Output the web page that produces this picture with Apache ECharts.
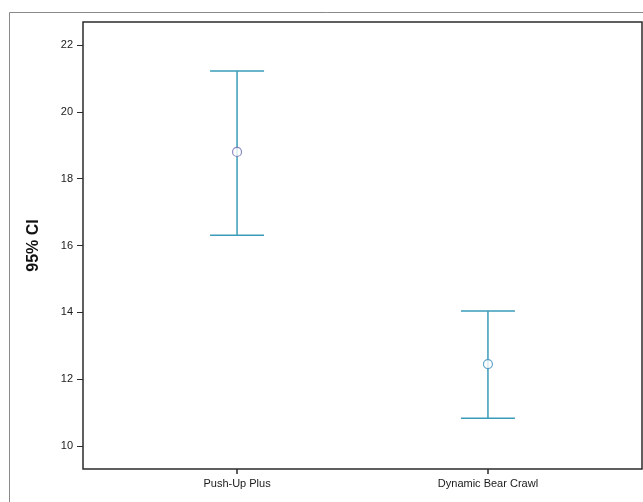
<!DOCTYPE html>
<html>
<head>
<meta charset="utf-8">
<script src="https://cdn.jsdelivr.net/npm/echarts@6/dist/echarts.min.js"></script>
<style>
  html, body { margin: 0; padding: 0; background: #fff; }
  #main { width: 643px; height: 502px; }
</style>
</head>
<body>
<div id="main"></div>
<script>
var categories = ['Push-Up Plus', 'Dynamic Bear Crawl'];
var lower = [16.31, 10.83];
var mean = [18.80, 12.45];
var upper = [21.22, 14.04];
var yTicks = [10, 12, 14, 16, 18, 20, 22];
var meanColors = ['#6d6db3', '#3b8fbf'];

var chartDom = document.getElementById('main');
var myChart = echarts.init(chartDom);

var ciData = categories.map(function (c, i) {
  return [i + 1, lower[i], upper[i]];
});
var meanData = categories.map(function (c, i) {
  return {
    value: [i + 1, mean[i]],
    itemStyle: { borderColor: meanColors[i] }
  };
});

var option = {
  animation: false,
  backgroundColor: '#fff',
  graphic: [
    {
      type: 'rect',
      shape: { x: 9.5, y: 12.5, width: 700, height: 600 },
      style: { fill: null, stroke: '#8a8a8a', lineWidth: 1 },
      z: -1
    }
  ],
  grid: {
    left: 83,
    top: 22,
    right: 1,
    bottom: 33,
    show: true,
    borderColor: '#2b2b2b',
    borderWidth: 1.5
  },
  xAxis: {
    type: 'value',
    min: 0.386,
    max: 2.614,
    splitLine: { show: false },
    axisLine: { show: false },
    axisTick: {
      show: true,
      length: 5,
      customValues: [1, 2],
      lineStyle: { color: '#2b2b2b', width: 1.5 }
    },
    axisLabel: {
      customValues: [1, 2],
      margin: 9,
      color: '#1a1a1a',
      fontFamily: 'Liberation Sans',
      fontSize: 11
      ,
      formatter: function (v) {
        return categories[Math.round(v) - 1] || '';
      }
    }
  },
  yAxis: {
    type: 'value',
    min: 9.31,
    max: 22.69,
    name: '95% CI',
    nameLocation: 'middle',
    nameGap: 41,
    nameTextStyle: {
      fontFamily: 'Liberation Sans',
      fontWeight: 'bold',
      fontSize: 16,
      color: '#111'
    },
    splitLine: { show: false },
    axisLine: { show: false },
    axisTick: {
      show: true,
      length: 6,
      customValues: yTicks,
      lineStyle: { color: '#2b2b2b', width: 1 }
    },
    axisLabel: {
      customValues: yTicks,
      margin: 10,
      color: '#1a1a1a',
      fontFamily: 'Liberation Sans',
      fontSize: 11
    }
  },
  series: [
    {
      type: 'custom',
      data: ciData,
      encode: { x: 0, y: [1, 2] },
      renderItem: function (params, api) {
        var x = api.value(0);
        var lo = api.coord([x, api.value(1)]);
        var hi = api.coord([x, api.value(2)]);
        var hw = 27;
        var style = { stroke: '#3a9cb8', lineWidth: 1.5 };
        return {
          type: 'group',
          children: [
            { type: 'line', shape: { x1: hi[0], y1: hi[1], x2: lo[0], y2: lo[1] }, style: style },
            { type: 'line', shape: { x1: hi[0] - hw, y1: hi[1], x2: hi[0] + hw, y2: hi[1] }, style: style },
            { type: 'line', shape: { x1: lo[0] - hw, y1: lo[1], x2: lo[0] + hw, y2: lo[1] }, style: style }
          ]
        };
      },
      z: 2
    },
    {
      type: 'scatter',
      data: meanData,
      symbol: 'circle',
      symbolSize: 9,
      itemStyle: { color: '#fff', borderWidth: 1.2 },
      z: 3
    }
  ]
};

myChart.setOption(option);
</script>
</body>
</html>
